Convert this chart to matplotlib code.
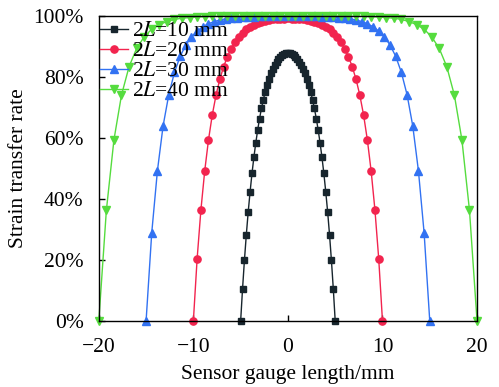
import matplotlib
matplotlib.use("Agg")
import matplotlib.pyplot as plt
import numpy as np
from matplotlib.ticker import PercentFormatter

plt.rcParams['font.family'] = ['Liberation Serif', 'DejaVu Serif']
plt.rcParams['mathtext.fontset'] = 'stix'
plt.rcParams['axes.unicode_minus'] = True

# half curves, from the left edge to the centre (x = -L ... 0); mirrored below
x10_half = [-5.0, -4.8, -4.6, -4.4, -4.2, -4.0, -3.8, -3.6, -3.4, -3.2, -3.0, -2.8, -2.6,
            -2.4, -2.2, -2.0, -1.8, -1.6, -1.4, -1.2, -1.0, -0.8, -0.6, -0.4, -0.2, 0.0]
y10_half = [0.0, 0.105, 0.199, 0.283, 0.358, 0.424, 0.484, 0.537, 0.584, 0.626, 0.664, 0.697, 0.726,
            0.752, 0.775, 0.795, 0.812, 0.827, 0.840, 0.850, 0.859, 0.866, 0.872, 0.876, 0.878, 0.879]

x20_half = [-10.0, -9.6, -9.2, -8.8, -8.4, -8.0, -7.6, -7.2, -6.8, -6.4, -6.0, -5.6, -5.2,
            -4.8, -4.4, -4.0, -3.6, -3.2, -2.8, -2.4, -2.0, -1.6, -1.2, -0.8, -0.4, 0.0]
y20_half = [0.0, 0.205, 0.365, 0.492, 0.594, 0.676, 0.741, 0.793, 0.834, 0.867, 0.893, 0.915, 0.932,
            0.945, 0.956, 0.965, 0.972, 0.977, 0.981, 0.985, 0.987, 0.989, 0.991, 0.992, 0.992, 0.993]

x30_half = [-15.0, -14.4, -13.8, -13.2, -12.6, -12.0, -11.4, -10.8, -10.2, -9.6, -9.0, -8.4, -7.8,
            -7.2, -6.6, -6.0, -5.4, -4.8, -4.2, -3.6, -3.0, -2.4, -1.8, -1.2, -0.6, 0.0]
y30_half = [0.0, 0.290, 0.493, 0.640, 0.742, 0.815, 0.868, 0.905, 0.932, 0.951, 0.965, 0.975, 0.982,
            0.987, 0.991, 0.994, 0.995, 0.997, 0.998, 0.998, 0.999, 0.999, 0.999, 0.999, 0.999, 1.0]

x40_half = [-20.0, -19.2, -18.4, -17.6, -16.8, -16.0, -15.2, -14.4, -13.6, -12.8, -12.0, -11.2, -10.4,
            -9.6, -8.8, -8.0, -7.2, -6.4, -5.6, -4.8, -4.0, -3.2, -2.4, -1.6, -0.8, 0.0]
y40_half = [0.0, 0.363, 0.594, 0.741, 0.834, 0.894, 0.932, 0.957, 0.972, 0.982, 0.989, 0.993, 0.995,
            0.997, 0.998, 0.999, 0.999, 0.9995, 1.0, 1.0, 1.0, 1.0, 1.0, 1.0, 1.0, 1.0]

labels = [r'2$L$=10 mm', r'2$L$=20 mm', r'2$L$=30 mm', r'2$L$=40 mm']
colors = ['#17252d', '#f2244e', '#3272f2', '#55dc3e']
markers = ['s', 'o', '^', 'v']
msizes = [4.2, 5.2, 5.5, 6]


def full(xh, yh):
    # mirror the half curve about x = 0
    x = list(xh) + [-v for v in xh[-2::-1]]
    y = list(yh) + list(yh[-2::-1])
    return x, y


fig = plt.figure(figsize=(4.99, 3.87), dpi=100)
ax = fig.add_axes([0.198, 0.1705, 0.758, 0.788])

series = [(x10_half, y10_half), (x20_half, y20_half), (x30_half, y30_half), (x40_half, y40_half)]
for (xh, yh), lab, c, m, ms in zip(series, labels, colors, markers, msizes):
    x, y = full(xh, yh)
    ax.plot(x, y, color=c, marker=m, markersize=ms, linewidth=1, label=lab, clip_on=False)

ax.set_xlim(-20, 20)
ax.set_ylim(0, 1.0)
ax.set_xticks([-20, -10, 0, 10, 20])
ax.set_yticks(np.arange(0, 1.01, 0.2))
ax.yaxis.set_major_formatter(PercentFormatter(1.0, decimals=0))
ax.tick_params(direction='in', labelsize=15.5, length=4, width=1)
ax.tick_params(axis='x', pad=12)
ax.tick_params(axis='y', pad=11)
for s in ax.spines.values():
    s.set_linewidth(1)

ax.set_xlabel('Sensor gauge length/mm', fontsize=15.5, labelpad=6)
ax.set_ylabel('Strain transfer rate', fontsize=15.5, labelpad=4)

ax.legend(loc='upper left', bbox_to_anchor=(0.0, 0.987), frameon=False, fontsize=15.5,
          handlelength=1.3, handletextpad=0.2, labelspacing=0.0, borderaxespad=0.0, borderpad=0.05)

fig.savefig('out.png', dpi=100)
